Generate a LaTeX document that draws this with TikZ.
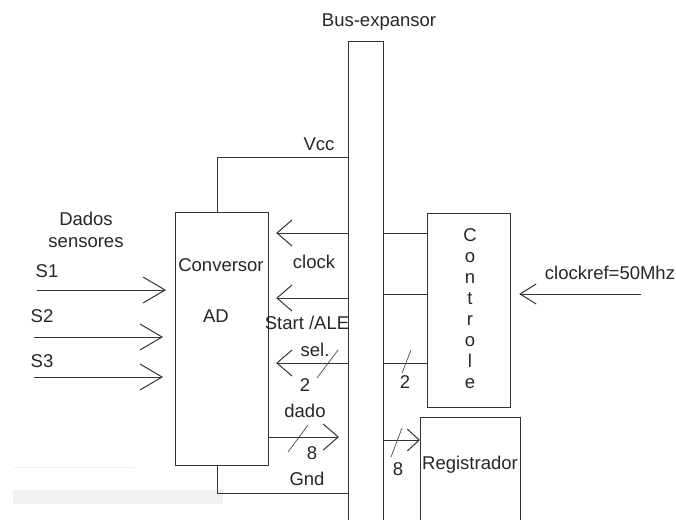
\documentclass[tikz,border=0pt]{standalone}
\usepackage{fontspec}
\setmainfont{Liberation Sans}
\usetikzlibrary{arrows.meta,positioning}

\begin{document}
\begin{tikzpicture}[x=1pt, y=-1pt, >={Straight Barb[length=15pt,width=26pt]}, every node/.style={font=\fontsize{18.5}{22}\selectfont, text=black!85}]
\tikzstyle{blk}=[draw=black!80, line width=1.2pt, inner sep=0pt, anchor=north west]
\tikzstyle{wire}=[draw=black!80, line width=1pt]
\tikzstyle{big}=[wire, ->, >={Straight Barb[length=22pt,width=26pt]}]
\tikzstyle{cut}=[draw=black!70, line width=0.7pt]
\useasboundingbox (0,0) rectangle (676,519);
\clip (0,0) rectangle (676,519);
\fill[gray!12] (13,490) rectangle (223,504);
\draw[gray!10, line width=0.6pt] (13,467) -- (135,467);

\coordinate (rvcc) at (0,157);
\coordinate (rclk) at (0,233);
\coordinate (rale) at (0,298);
\coordinate (rctl) at (0,294);
\coordinate (rsel) at (0,363);
\coordinate (rdat) at (0,437);
\coordinate (rreg) at (0,440);
\coordinate (rgnd) at (0,493);

\node[blk, minimum width=35pt, minimum height=500pt] (bus) at (348,41) {};
\node (bustxt) at (379,22) {Bus-expansor};

\node[blk, minimum width=93pt, minimum height=253pt] (conv) at (175,212) {};
\node (convt) at (221,265) {Conversor};
\node (convad) at (216,316) {AD};

\node[blk, minimum width=83pt, minimum height=194pt] (ctrl) at (427,213) {};
\foreach \ch [count=\i] in {C,o,n,t,r,o,l,e}
  \node[anchor=base] (ctrl\i) at (470,220+21*\i) {\ch};

\node[blk, minimum width=100pt, minimum height=130pt] (reg) at (420,417) {};
\node (regt) at (470,465) {Registrador};

\draw[wire] ([xshift=-4.5pt]conv.north) |- (bus.west |- rvcc);
\draw[wire] ([xshift=-4.5pt]conv.south) |- (bus.west |- rgnd);
\node (vcc) at (319,144) {Vcc};
\node (gnd) at (307,479) {Gnd};

\draw[wire, ->, shorten >=7pt] (bus.west |- rclk) -- (conv.east |- rclk);
\node (clk) at (314,262) {clock};
\draw[wire, ->, shorten >=7pt] (bus.west |- rale) -- (conv.east |- rale);
\node (ale) at (307,323) {Start /ALE};
\draw[wire, ->, shorten >=7pt] (bus.west |- rsel) -- (conv.east |- rsel);
\node (sel) at (315,350) {sel.};
\coordinate (ksel) at (327.5,364);
\draw[cut] ([shift={(10.5,-14)}]ksel) -- ([shift={(-10.5,14)}]ksel);
\node (nsel) at (305,385) {2};
\draw[wire, ->, shorten >=9pt] (conv.east |- rdat) -- (bus.west |- rdat);
\node (dado) at (305,411) {dado};
\coordinate (kdat) at (298,438.5);
\draw[cut] ([shift={(10,-13.5)}]kdat) -- ([shift={(-10,13.5)}]kdat);
\node (ndat) at (312,453) {8};

\draw[wire] (bus.east |- rclk) -- (ctrl.west |- rclk);
\draw[wire] (bus.east |- rctl) -- (ctrl.west |- rctl);
\draw[wire] (bus.east |- rsel) -- (ctrl.west |- rsel);
\coordinate (kctl) at (406.5,361.5);
\draw[cut] ([shift={(4.5,-11.5)}]kctl) -- ([shift={(-4.5,11.5)}]kctl);
\node (nctl) at (405,382) {2};
\draw[wire, ->, >={Straight Barb[length=12pt,width=22pt]}] (bus.east |- rreg) -- (reg.west |- rreg);
\coordinate (kreg) at (396.5,442.5);
\draw[cut] ([shift={(5.5,-14.5)}]kreg) -- ([shift={(-5.5,14.5)}]kreg);
\node (nreg) at (398,469) {8};

\coordinate (refin) at (641,294);
\draw[wire, ->, >={Straight Barb[length=16pt,width=20pt]}, shorten >=8pt] (refin) -- (ctrl.east |- refin);
\node (ref) at (610,273) {clockref=50Mhz};

\node[align=center] (sens) at (86,230) {Dados\\sensores};
\coordinate (s1in) at (37,290);
\coordinate (s2in) at (34,337);
\coordinate (s3in) at (34,377);
\draw[big, shorten >=9pt] (s1in) -- (conv.west |- s1in);
\draw[big, shorten >=12pt] (s2in) -- (conv.west |- s2in);
\draw[big, shorten >=12pt] (s3in) -- (conv.west |- s3in);
\node (s1) at (47,271) {S1};
\node (s2) at (42,316) {S2};
\node (s3) at (42,361) {S3};
\end{tikzpicture}
\end{document}
